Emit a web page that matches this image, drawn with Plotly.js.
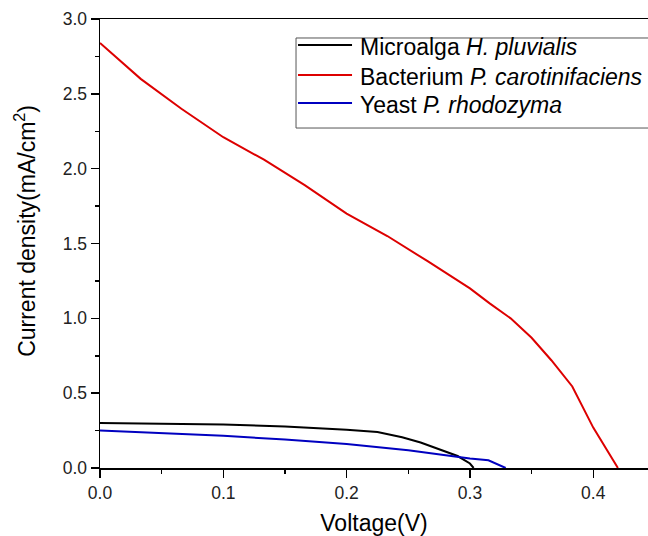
<!DOCTYPE html>
<html>
<head>
<meta charset="utf-8">
<script src="https://cdn.plot.ly/plotly-3.0.1.min.js"></script>
<style>html,body{margin:0;padding:0;background:#fff;}#chart{width:648px;height:536px;}</style>
</head>
<body>
<div id="chart"></div>
<script>
const seriesNames = ["Microalga <i>H. pluvialis</i>", "Bacterium <i>P. carotinifaciens</i>", "Yeast <i>P. rhodozyma</i>"];
const seriesColors = ["#000000", "#dd0000", "#0000c0"];

const algaV = [0, 0.05, 0.1, 0.15, 0.18, 0.2, 0.225, 0.245, 0.26, 0.275, 0.29, 0.3, 0.303];
const algaJ = [0.30, 0.295, 0.29, 0.278, 0.265, 0.256, 0.24, 0.205, 0.17, 0.125, 0.08, 0.03, 0.0];

const bactV = [0, 0.033, 0.066, 0.1, 0.133, 0.166, 0.2, 0.233, 0.266, 0.3, 0.316, 0.333, 0.35, 0.366, 0.383, 0.4, 0.42];
const bactJ = [2.84, 2.60, 2.40, 2.21, 2.06, 1.89, 1.70, 1.55, 1.38, 1.20, 1.10, 1.00, 0.87, 0.72, 0.545, 0.27, 0.0];

const yeastV = [0, 0.05, 0.1, 0.15, 0.2, 0.25, 0.3, 0.315, 0.329];
const yeastJ = [0.25, 0.235, 0.215, 0.19, 0.16, 0.118, 0.063, 0.052, 0.0];

const xTicks = [0, 0.1, 0.2, 0.3, 0.4];
const yTicks = [0, 0.5, 1.0, 1.5, 2.0, 2.5, 3.0];

const font = "Liberation Sans, Arial, sans-serif";

const traces = [
  {x: algaV, y: algaJ, name: seriesNames[0], mode: "lines", line: {color: seriesColors[0], width: 2}, showlegend: false},
  {x: bactV, y: bactJ, name: seriesNames[1], mode: "lines", line: {color: seriesColors[1], width: 2}, showlegend: false},
  {x: yeastV, y: yeastJ, name: seriesNames[2], mode: "lines", line: {color: seriesColors[2], width: 2}, showlegend: false}
];

// legend drawn as a boxed key (paper coordinates)
const legRows = [0.9421, 0.8753, 0.8129];
const shapes = [
  {type: "rect", xref: "paper", yref: "paper", x0: 0.3577, x1: 1.05, y0: 0.7572, y1: 0.9577,
   line: {color: "#555", width: 1}, fillcolor: "#fff", layer: "above"}
];
const annotations = [];
seriesNames.forEach((n, i) => {
  shapes.push({type: "line", xref: "paper", yref: "paper", x0: 0.3613, x1: 0.4599, y0: legRows[i], y1: legRows[i],
    line: {color: seriesColors[i], width: 2}, layer: "above"});
  annotations.push({xref: "paper", yref: "paper", x: 0.4708, y: legRows[i] - 0.005, xanchor: "left", yanchor: "middle",
    text: n, showarrow: false, font: {family: font, size: 23, color: "#000"}});
});
annotations.push({xref: "paper", yref: "paper", x: -0.137, y: 0.528, xanchor: "center", yanchor: "middle",
  textangle: -90, text: "Current density(mA/cm<sup>2</sup>)", showarrow: false,
  font: {family: font, size: 23, color: "#000"}});

const axisCommon = {
  showline: true, linecolor: "#000", linewidth: 1.5,
  showgrid: false, zeroline: false,
  ticks: "outside", ticklen: 8, tickwidth: 1.5, tickcolor: "#000",
  tickfont: {family: font, size: 17.5, color: "#222"},
  tickformat: ".1f"
};

const layout = {
  width: 648, height: 536,
  margin: {l: 100, r: 0, t: 19, b: 68},
  paper_bgcolor: "#fff", plot_bgcolor: "#fff",
  showlegend: false,
  shapes: shapes,
  annotations: annotations,
  xaxis: Object.assign({}, axisCommon, {
    range: [0, 0.4444], tickvals: xTicks, mirror: true,
    minor: {dtick: 0.05, tick0: 0, ticks: "outside", ticklen: 4, tickwidth: 1.5, tickcolor: "#000"},
    title: {text: "Voltage(V)", font: {family: font, size: 23, color: "#000"}, standoff: 13}
  }),
  yaxis: Object.assign({}, axisCommon, {
    range: [0, 3.0], tickvals: yTicks,
    minor: {dtick: 0.25, tick0: 0, ticks: "outside", ticklen: 4, tickwidth: 1.5, tickcolor: "#000"}
  })
};

Plotly.newPlot("chart", traces, layout, {displayModeBar: false, staticPlot: true});
</script>
</body>
</html>
